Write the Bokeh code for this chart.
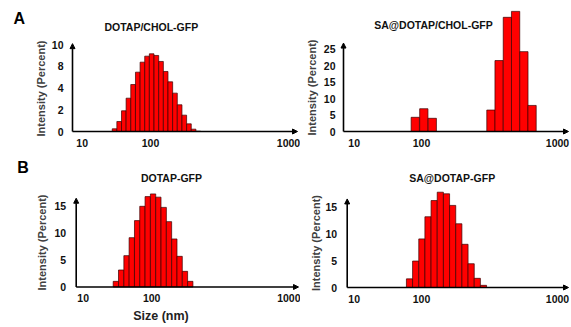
import numpy as np
from bokeh.plotting import figure
from bokeh.models import FixedTicker, Label, Arrow, NormalHead, ColumnDataSource
from bokeh.layouts import column, row
from bokeh.embed import file_html
from bokeh.resources import INLINE

# ---------------- data ----------------
# A, left: DOTAP/CHOL-GFP   (size in nm, intensity in %)
a1_size = [54.9, 59.3, 64.1, 69.2, 74.8, 80.9, 87.4, 94.4, 102.0, 110.3,
           119.2, 128.8, 139.2, 150.4, 162.6, 175.7, 189.9, 205.2, 221.8]
a1_int = [0.31, 1.15, 2.38, 3.83, 5.40, 6.82, 7.97, 8.66, 8.93, 8.74,
          8.05, 6.90, 5.71, 4.41, 3.07, 1.88, 0.88, 0.27, 0.04]
# A, right: SA@DOTAP/CHOL-GFP
a2_size = [90, 104, 120, 324, 372, 428, 492, 566, 650]
a2_int = [4.3, 6.9, 4.0, 6.5, 21.5, 34.6, 36.4, 24.2, 7.9]
# B, left: DOTAP-GFP
b1_size = [55.1, 60.2, 65.8, 71.8, 78.5, 85.7, 93.6, 102.3, 111.7, 122.1,
           133.3, 145.7, 159.1, 173.8, 189.9]
b1_int = [1.05, 3.16, 5.83, 9.17, 12.34, 15.0, 16.8, 17.3, 16.7, 14.8,
          12.15, 8.93, 5.70, 2.91, 1.05]
# B, right: SA@DOTAP-GFP
b2_size = [81.6, 90.6, 100.6, 111.6, 123.9, 137.5, 152.7, 169.5, 188.1,
           208.8, 231.8, 257.3, 285.6]
b2_int = [1.6, 4.9, 9.0, 13.1, 16.1, 17.65, 17.35, 15.2, 11.8, 8.0, 4.4, 1.7, 0.4]

titles = ["DOTAP/CHOL-GFP", "SA@DOTAP/CHOL-GFP", "DOTAP-GFP", "SA@DOTAP-GFP"]
panel_letters = ["A", "B"]
x_tick_labels = ["10", "100", "1000"]
a1_ytick_labels = ["0", "2", "4", "8", "10"]
a2_ytick_labels = ["0", "5", "10", "15", "20", "25"]
b_ytick_labels = ["0", "5", "10", "15"]
y_title = "Intensity (Percent)"
x_title = "Size (nm)"

# ---------------- style / layout ----------------
FONT = "Liberation Sans"
BAR_FILL = "#FF0000"
BAR_LINE = "#3a0000"
# the reference prints "10" right next to the axis origin
X_TICK_POS = [32, 100, 1000]


def add_text(p, x, y, text, size, angle=0.0, color="#111111"):
    p.add_layout(Label(x=x, y=y, x_units="canvas", y_units="canvas", text=text,
                       text_font=FONT, text_font_size=size, text_font_style="bold",
                       text_align="center", text_baseline="middle", angle=angle,
                       text_color=color))


def panel(sizes, ints, W, H, yaxis_px, p100_px, decade_px, xend_px,
          base_px, px_per_unit, y_arrow, yticks, ylabels, ystandoff,
          title, title_xy, ytitle_xy):
    # ranges chosen so that the whole canvas is the plotting frame
    x_start = 10 ** (2 - p100_px / decade_px)
    x_end = 10 ** (2 + (W - p100_px) / decade_px)
    y_start = -(H - base_px) / px_per_unit
    y_end = base_px / px_per_unit
    x_axis = 10 ** (2 - (p100_px - yaxis_px) / decade_px)
    x_tip = 10 ** (2 + (xend_px - p100_px) / decade_px)

    p = figure(width=W, height=H, x_axis_type="log", x_range=(x_start, x_end),
               y_range=(y_start, y_end), output_backend="svg",
               toolbar_location=None, min_border=0)
    p.outline_line_color = None
    p.xgrid.visible = False
    p.ygrid.visible = False
    p.background_fill_color = "white"
    p.border_fill_color = "white"

    s = np.array(sizes, dtype=float)
    ratio = float(np.median(s[1:] / s[:-1]))
    half = np.sqrt(ratio)
    src = ColumnDataSource(dict(left=s / half, right=s * half, top=ints))
    p.quad(left="left", right="right", bottom=0, top="top", source=src,
           fill_color=BAR_FILL, line_color=BAR_LINE, line_width=0.7)

    for ax in (p.xaxis[0], p.yaxis[0]):
        ax.axis_line_color = None
        ax.major_tick_line_color = None
        ax.minor_tick_line_color = None
        ax.major_tick_out = 0
        ax.major_tick_in = 0
        ax.minor_tick_out = 0
        ax.minor_tick_in = 0
        ax.major_label_text_font = FONT
        ax.major_label_text_font_style = "bold"
        ax.major_label_text_font_size = "10.5px"
        ax.major_label_text_color = "#111111"
    p.xaxis.fixed_location = 0
    p.yaxis.fixed_location = x_axis
    p.xaxis.ticker = FixedTicker(ticks=X_TICK_POS, minor_ticks=[])
    p.xaxis.major_label_overrides = {t: l for t, l in zip(X_TICK_POS, x_tick_labels)}
    p.xaxis.major_label_standoff = 7
    p.yaxis.ticker = FixedTicker(ticks=list(yticks), minor_ticks=[])
    p.yaxis.major_label_overrides = {float(t): l for t, l in zip(yticks, ylabels)}
    p.yaxis.major_label_standoff = int(ystandoff)

    p.add_layout(Arrow(end=NormalHead(size=5, fill_color="black", line_color="black"),
                       x_start=x_axis, y_start=0, x_end=x_tip, y_end=0,
                       line_width=1.6, line_color="black"))
    p.add_layout(Arrow(end=NormalHead(size=5, fill_color="black", line_color="black"),
                       x_start=x_axis, y_start=0, x_end=x_axis, y_end=y_arrow,
                       line_width=1.6, line_color="black"))

    add_text(p, title_xy[0], title_xy[1], title, "10.5px")
    add_text(p, ytitle_xy[0], ytitle_xy[1], y_title, "11px", angle=np.pi / 2,
             color="#404040")
    return p


# canvas coordinates of each panel (left panels 300 wide, right 270; rows 160 / 166)
pa1 = panel(a1_size, a1_int, 300, 160, 72, 150, 138, 297,
            131, 8.7, 10.1, np.linspace(0, 10, len(a1_ytick_labels)), a1_ytick_labels, 9,
            titles[0], (150.8, 26), (40, 88))
add_text(pa1, 18.8, 17.5, panel_letters[0], "16px", color="black")

pa2 = panel(a2_size, a2_int, 270, 160, 43, 121, 136, 268,
            131, 3.3, 26.8, [float(v) for v in a2_ytick_labels], a2_ytick_labels, 8,
            titles[1], (133, 24.3), (11.7, 87))

pb1 = panel(b1_size, b1_int, 300, 166, 75.7, 151.2, 138.5, 298,
            126.5, 5.38, 16.5, [float(v) for v in b_ytick_labels], b_ytick_labels, 10,
            titles[2], (171, 17.3), (41.7, 82))
add_text(pb1, 22.5, 7, panel_letters[1], "16px", color="black")
add_text(pb1, 160.5, 155.5, x_title, "12.5px", color="#222222")

pb2 = panel(b2_size, b2_int, 270, 166, 46.7, 121, 136, 268,
            127, 5.4, 16.4, [float(v) for v in b_ytick_labels], b_ytick_labels, 10,
            titles[3], (151.7, 17.3), (15, 82.5))

layout = column(row(pa1, pa2), row(pb1, pb2))
open("out.html", "w").write(file_html(layout, INLINE))
